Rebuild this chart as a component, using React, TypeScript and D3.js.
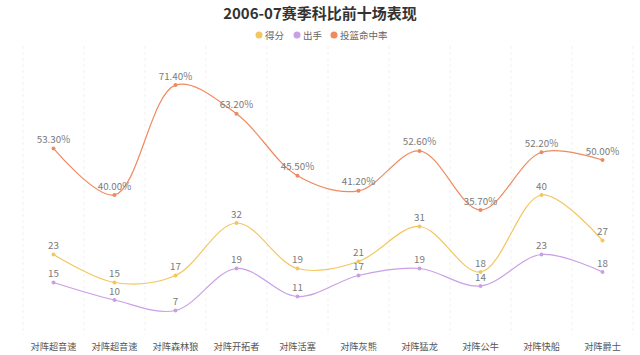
import React from "react";
import * as d3 from "d3";

const categories = ["对阵超音速", "对阵超音速", "对阵森林狼", "对阵开拓者", "对阵活塞", "对阵灰熊", "对阵猛龙", "对阵公牛", "对阵快船", "对阵爵士"];
const points = [23, 15, 17, 32, 19, 21, 31, 18, 40, 27];
const attempts = [15, 10, 7, 19, 11, 17, 19, 14, 23, 18];
const fgPct = [53.3, 40.0, 71.4, 63.2, 45.5, 41.2, 52.6, 35.7, 52.2, 50.0];

const seriesNames = ["得分", "出手", "投篮命中率"];
const colors = ["#f3c75f", "#c9a0e6", "#ef8a5f"];

const W = 640, H = 355;
const left = 23, right = 633, top = 55, bottom = 335;
const font = "'Noto Sans CJK SC', 'Noto Sans', sans-serif";

export default function App() {
  const x = d3.scaleBand<string>().domain(categories.map((_, i) => String(i))).range([left, right]);
  const yCount = d3.scaleLinear().domain([0, 80]).range([bottom, top]);
  const yPct = d3.scaleLinear().domain([0, 80]).range([bottom, top]);
  const cx = (i: number) => (x(String(i)) as number) + x.bandwidth() / 2;

  const series = [
    { name: seriesNames[0], data: points, y: yCount, fmt: (v: number) => String(v), color: colors[0] },
    { name: seriesNames[1], data: attempts, y: yCount, fmt: (v: number) => String(v), color: colors[1] },
    { name: seriesNames[2], data: fgPct, y: yPct, fmt: (v: number) => v.toFixed(2) + "%", color: colors[2] },
  ];

  const legendX = [259, 297, 334];

  return (
    <svg width={W} height={H} style={{ position: "absolute", left: 0, top: 0, background: "#fff" }} fontFamily={font}>
      <text x={320} y={19} textAnchor="middle" fontSize={15} fontWeight="bold" fill="#333">2006-07赛季科比前十场表现</text>
      {series.map((s, k) => (
        <g key={k}>
          <circle cx={legendX[k]} cy={35} r={3.5} fill={s.color} />
          <text x={legendX[k] + 6} y={38.5} fontSize={9.5} fill="#666">{s.name}</text>
        </g>
      ))}
      {d3.range(categories.length + 1).map((i) => {
        const gx = left + i * x.bandwidth();
        return <line key={i} x1={gx} x2={gx} y1={46} y2={bottom} stroke="#f0f0f0" strokeDasharray="3,3" strokeWidth={1} />;
      })}
      {categories.map((c, i) => (
        <text key={i} x={cx(i)} y={350} textAnchor="middle" fontSize={9.2} fill="#555">{c}</text>
      ))}
      {series.map((s, k) => {
        const line = d3.line<number>().x((_, i) => cx(i)).y((v) => s.y(v)).curve(d3.curveCatmullRom.alpha(0.5));
        return (
          <g key={k}>
            <path d={line(s.data) || ""} fill="none" stroke={s.color} strokeWidth={1.2} />
            {s.data.map((v, i) => (
              <g key={i}>
                <circle cx={cx(i)} cy={s.y(v)} r={2} fill={s.color} />
                <text x={cx(i)} y={s.y(v) - 5.5} textAnchor="middle" fontSize={9.8} fill="#7a7a7a">{s.fmt(v)}</text>
              </g>
            ))}
          </g>
        );
      })}
    </svg>
  );
}
